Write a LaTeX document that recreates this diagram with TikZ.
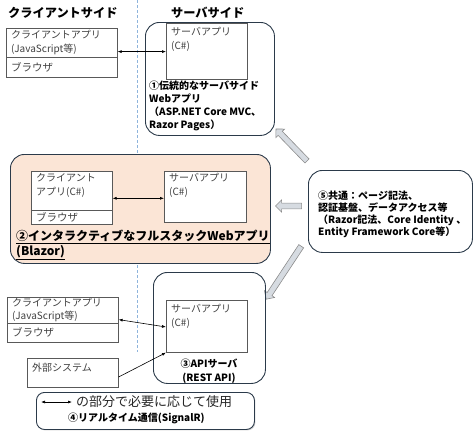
\documentclass[tikz,border=0pt]{standalone}
\usepackage{fontspec}
\setmainfont{Noto Sans CJK JP}
\usetikzlibrary{calc,arrows.meta,shapes.arrows,shadows}
\definecolor{framec}{HTML}{2B3A4A}
\definecolor{peach}{HTML}{FBE5D6}
\definecolor{sepc}{HTML}{8EB4DC}
\definecolor{txtc}{HTML}{404040}
\definecolor{garfill}{HTML}{D6DBE1}
\tikzset{
  rbox/.style={draw=framec,line width=0.9pt,rounded corners=14pt,anchor=north west,inner sep=0pt},
  appbox/.style={draw=black!65,line width=0.6pt,fill=white,anchor=north west,inner sep=0pt},
  intext/.style={anchor=north west,align=left,text=txtc,inner sep=0pt,font=\fontsize{10}{14}\selectfont},
  lbl/.style={align=left,inner sep=0pt,font=\bfseries\fontsize{10}{13}\selectfont},
  link/.style={{Latex[length=4pt,width=3pt]}-{Latex[length=4pt,width=3pt]},line width=0.6pt},
  bigarrow/.style={single arrow,draw=black!45,fill=garfill,line width=0.6pt,inner xsep=0pt,inner ysep=2.6pt,
    single arrow head extend=3.2pt,single arrow head indent=0pt,sloped,allow upside down}
}
\begin{document}
\begin{tikzpicture}[x=1pt,y=-1pt]
\useasboundingbox (0,0) rectangle (474,434);
\node[lbl,anchor=west,font=\bfseries\fontsize{12.2}{14}\selectfont] (hcl) at (8,13) {クライアントサイド};
\node[lbl,anchor=west,font=\bfseries\fontsize{12.2}{14}\selectfont] (hsv) at (171,13) {サーバサイド};
\coordinate (dtop) at (137,0);
\coordinate (dbot) at (137,352);
\draw[sepc,line width=0.8pt,dash pattern=on 3pt off 2pt] (dtop) -- (dbot);

% (1) traditional web app
\node[rbox,minimum width=129pt,minimum height=113pt] (trad) at (145,22) {};
\node[appbox,minimum width=81pt,minimum height=56pt] (srv1) at (166,23) {};
\node[intext] (srv1t) at (171,27) {サーバアプリ\\(C\#)};
\node[lbl,anchor=north west] (tradt) at (149,81) {①伝統的なサーバサイド\\Webアプリ\\（ASP.NET Core MVC、\\Razor Pages）};
\node[appbox,minimum width=111pt,minimum height=29pt] (capp1) at (6,28) {};
\node[appbox,minimum width=111pt,minimum height=20pt] (brw1) at (6,57) {};
\node[intext] (capp1t) at (11,30) {クライアントアプリ\\(JavaScript等)};
\node[intext,anchor=west,font=\fontsize{10.5}{12}\selectfont] (brw1t) at ($(brw1.west)+(5,0)$) {ブラウザ};
\coordinate (a1) at ($(capp1.south east)+(0,-6)$);
\draw[link] (a1) -- (a1 -| srv1.west);

% (2) blazor
\node[rbox,fill=peach,minimum width=260pt,minimum height=109pt] (blazor) at (10,154) {};
\node[appbox,minimum width=81pt,minimum height=39pt] (capp2) at (31,171) {};
\node[appbox,minimum width=81pt,minimum height=14pt] (brw2) at (31,210) {};
\node[intext] (capp2t) at (36,173) {クライアント\\アプリ(C\#)};
\node[intext,anchor=west,font=\fontsize{10.5}{12}\selectfont] (brw2t) at ($(brw2.west)+(5,0)$) {ブラウザ};
\node[appbox,minimum width=82pt,minimum height=51pt] (srv2) at (164,171) {};
\node[intext] (srv2t) at (169,173) {サーバアプリ\\(C\#)};
\coordinate (a2) at ($(capp2.east)+(0,7.5)$);
\draw[link] (a2) -- (a2 -| srv2.west);
\node[lbl,anchor=north west,font=\bfseries\fontsize{12}{14.5}\selectfont] (blazort) at (16,230) {\underline{②インタラクティブなフルスタックWebアプリ}\\\underline{(Blazor)}};

% (5) common
\node[rbox,minimum width=164pt,minimum height=82pt] (common) at (308,170) {};
\node[lbl,anchor=north west,font=\bfseries\fontsize{10}{11.8}\selectfont] (commont) at (318,191) {⑤共通：ページ記法、\\認証基盤、データアクセス等\\（Razor記法、Core Identity 、\\Entity Framework Core等）};
\coordinate (g1s) at (308,162);
\coordinate (g1e) at (277,130);
\coordinate (g2s) at (303,206);
\coordinate (g2e) at (277,206);
\coordinate (g3s) at (302,245);
\coordinate (g3e) at (267,298);
\path (g1s) -- (g1e) node[bigarrow,midway,minimum height=44.6pt] (g1) {};
\path (g2s) -- (g2e) node[bigarrow,midway,minimum height=26pt] (g2) {};
\path (g3s) -- (g3e) node[bigarrow,midway,minimum height=63.5pt] (g3) {};

% (3) api server
\node[rbox,minimum width=112pt,minimum height=111pt] (api) at (153,272) {};
\node[appbox,minimum width=81pt,minimum height=52pt] (srv3) at (166,300) {};
\node[intext] (srv3t) at (171,304) {サーバアプリ\\(C\#)};
\node[lbl,anchor=north,align=center,font=\bfseries\fontsize{10}{14}\selectfont] (apit) at (209,359) {③APIサーバ\\(REST API)};
\node[appbox,minimum width=111pt,minimum height=26pt] (capp3) at (7,297) {};
\node[appbox,minimum width=111pt,minimum height=19pt] (brw3) at (7,323) {};
\node[intext,font=\fontsize{10}{12.5}\selectfont] (capp3t) at (12,298) {クライアントアプリ\\(JavaScript等)};
\node[intext,anchor=west,font=\fontsize{10.5}{12}\selectfont] (brw3t) at ($(brw3.west)+(5,0)$) {ブラウザ};
\node[appbox,minimum width=91pt,minimum height=29pt] (ext) at (27,358) {};
\node[intext] (extt) at (32,363) {外部システム};
\draw[link] ($(capp3.south east)+(0,-4)$) -- ($(srv3.north west)+(0,27)$);
\draw[-{Latex[length=4pt,width=3pt]},line width=0.6pt] ($(ext.north east)+(0,19)$) -- (srv3.south west);

% (4) signalR note
\node[rbox,rounded corners=8pt,fill=white,drop shadow={shadow xshift=1pt,shadow yshift=-1pt,opacity=0.35},
  minimum width=218pt,minimum height=37pt] (note) at (36,392) {};
\coordinate (n1) at (41,402);
\coordinate (n2) at (72,402);
\draw[link] (n1) -- (n2);
\node[anchor=west,inner sep=0pt,text=black!85,font=\fontsize{13}{15}\selectfont] (notet) at (76,402) {の部分で必要に応じて使用};
\node[lbl,anchor=west] (notel) at (68,418) {④リアルタイム通信(SignalR)};
\end{tikzpicture}
\end{document}
